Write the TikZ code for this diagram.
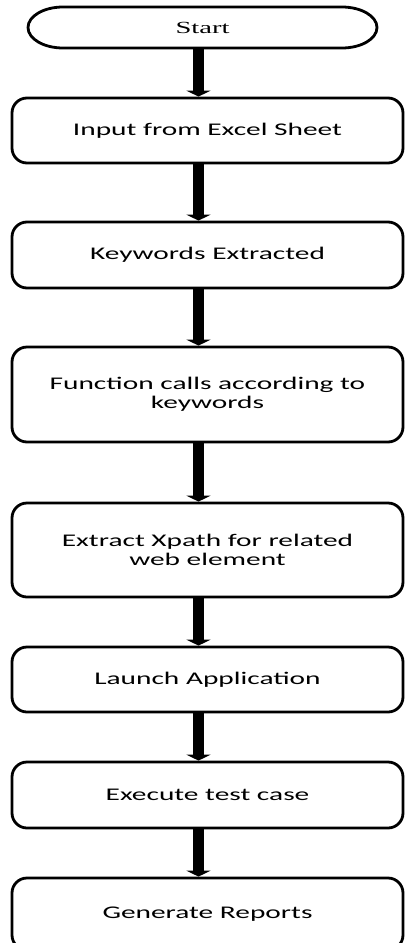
\documentclass[tikz,border=0pt]{standalone}
\usepackage{fontspec}
\newfontfamily\boxfont[FakeStretch=1.65]{Carlito}
\newfontfamily\startfont[FakeStretch=1.68]{Liberation Serif}
\usetikzlibrary{arrows.meta,calc}
\begin{document}
\begin{tikzpicture}[x=1pt,y=-1pt,
  outline/.style={line width=2.8pt},
  stepbox/.style={outline, draw, fill=white, rounded corners=15pt, minimum width=391pt,
    inner sep=0pt, align=center, font=\boxfont\fontsize{17.8}{19}\selectfont},
  flow/.style={line width=11pt, -{Triangle[width=24pt,length=6pt]}}]
\useasboundingbox (0,0) rectangle (406,943);
\clip (0,0) rectangle (406,943);
\fill[white] (0,0) rectangle (406,943);

% start terminal
\node[minimum width=349pt, minimum height=41pt, inner sep=0pt, outer sep=0pt,
      font=\startfont\fontsize{17}{19}\selectfont] (s) at (202.5,27.5) {};
\draw[outline] ($(s.north west)+(35,0)$) -- ($(s.north east)+(-35,0)$)
   arc[start angle=90, end angle=-90, x radius=35pt, y radius=20.5pt]
   -- ($(s.south west)+(35,0)$)
   arc[start angle=270, end angle=90, x radius=35pt, y radius=20.5pt] -- cycle;
\node[font=\startfont\fontsize{17}{19}\selectfont, inner sep=0pt] (st) at (s.center) {Start};

\node[stepbox, minimum height=65pt] (b1) at (207.5,130.5) {Input from Excel Sheet};
\node[stepbox, minimum height=66pt] (b2) at (207.5,255) {Keywords Extracted};
\node[stepbox, minimum height=95pt] (b3) at (207.5,394.5) {Function calls according to\\keywords};
\node[stepbox, minimum height=94pt] (b4) at (207.5,550) {Extract Xpath for related\\web element};
\node[stepbox, minimum height=65pt] (b5) at (207.5,679.5) {Launch Application};
\node[stepbox, minimum height=66pt] (b6) at (207.5,795) {Execute test case};
\node[stepbox, minimum height=72pt] (b7) at (207.5,914) {Generate Reports};

\coordinate (ax) at (198.5,0);
\draw[flow] (s.south -| ax) -- (b1.north -| ax);
\draw[flow] (b1.south -| ax) -- (b2.north -| ax);
\draw[flow] (b2.south -| ax) -- (b3.north -| ax);
\draw[flow] (b3.south -| ax) -- (b4.north -| ax);
\draw[flow] (b4.south -| ax) -- (b5.north -| ax);
\draw[flow] (b5.south -| ax) -- (b6.north -| ax);
\draw[flow] (b6.south -| ax) -- (b7.north -| ax);
\end{tikzpicture}
\end{document}
